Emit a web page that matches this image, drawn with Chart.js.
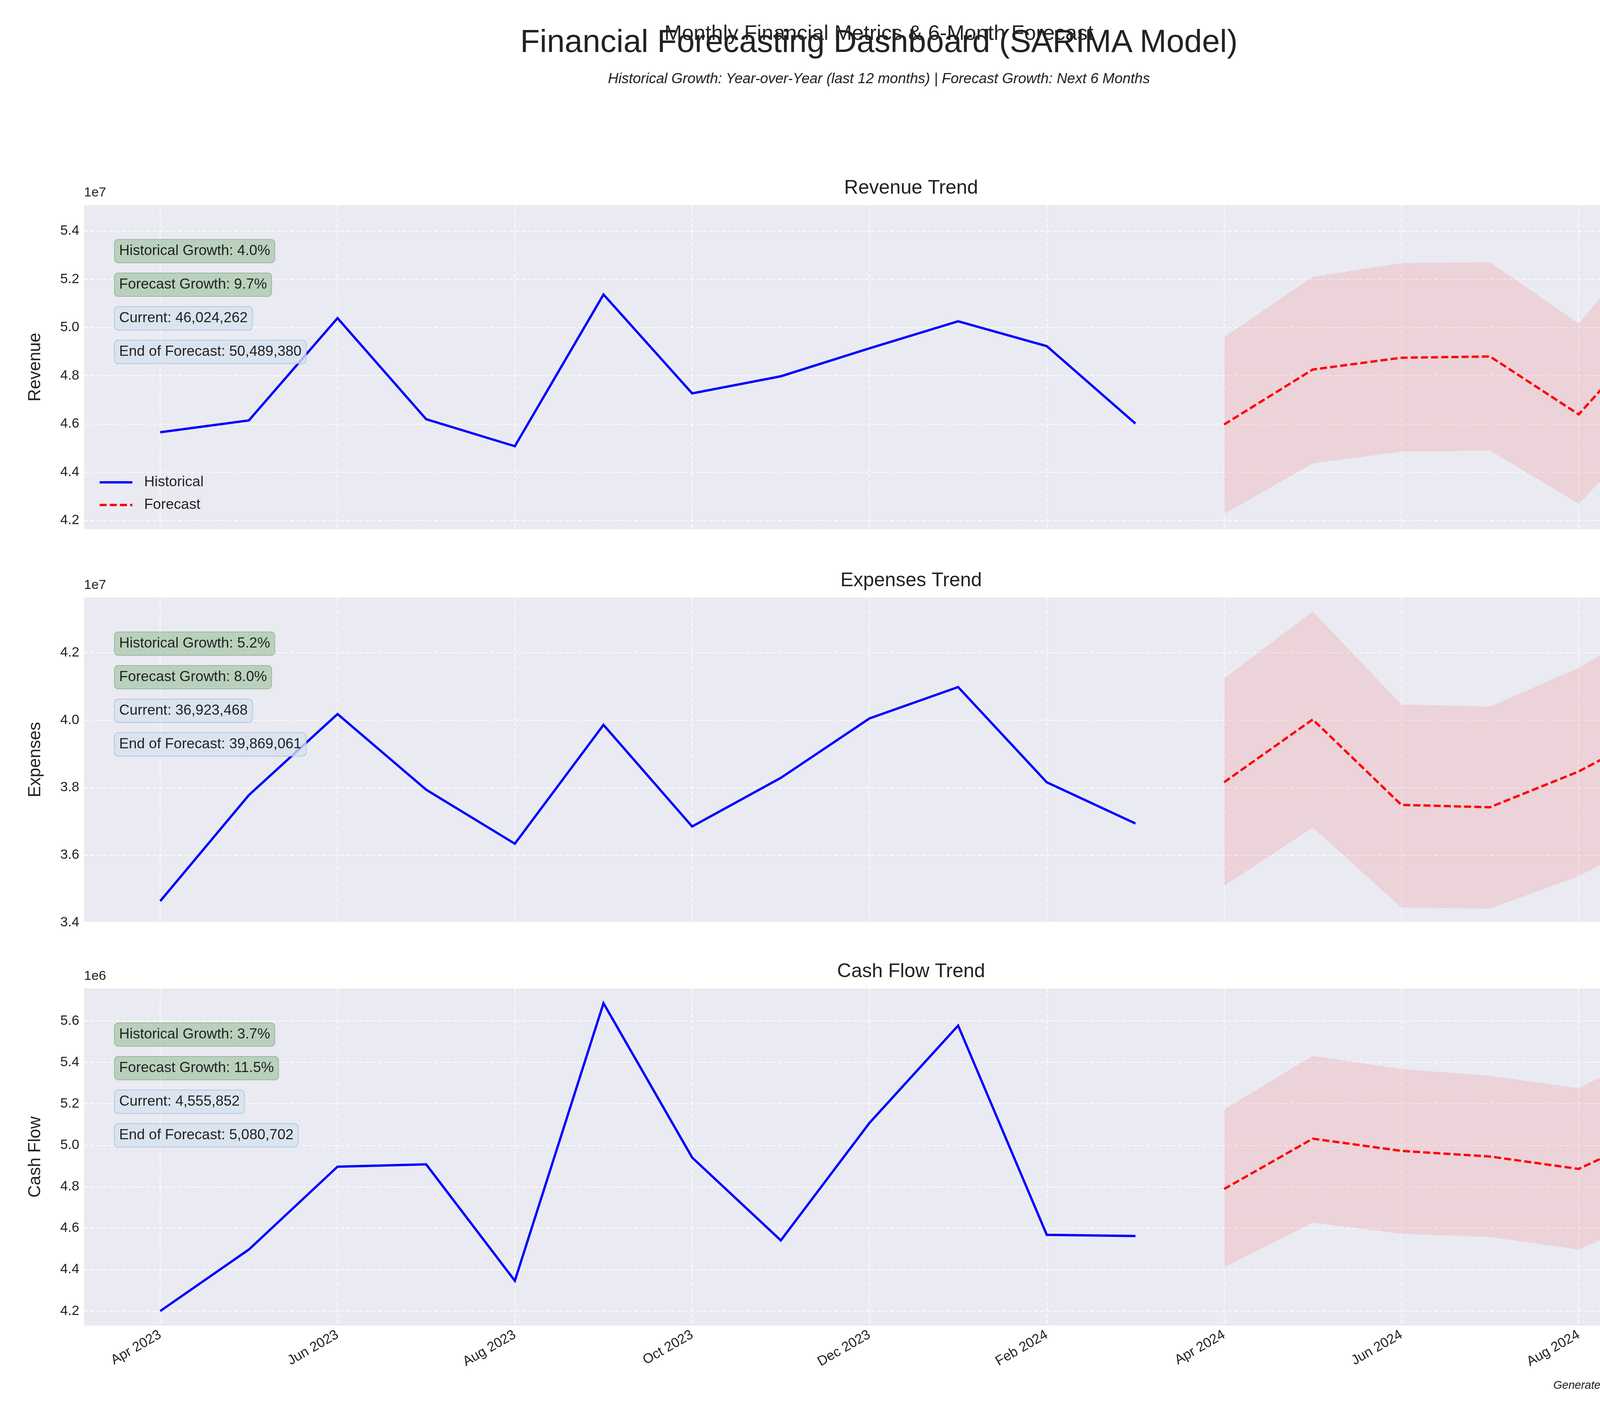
<!DOCTYPE html>
<html>
<head>
<meta charset="utf-8">
<script src="https://cdn.jsdelivr.net/npm/chart.js@4.4.0/dist/chart.umd.min.js"></script>
<style>
  body { margin:0; background:#fff; font-family:"Liberation Sans", Arial, sans-serif; }
  #wrap { position:relative; width:4500px; height:3600px; }
  .t { position:absolute; left:0; width:4500px; text-align:center; color:#222; white-space:nowrap; }
  canvas { position:absolute; left:0; }
</style>
</head>
<body>
<div id="wrap">
  <div class="t" style="top:52px;font-size:54px;">Monthly Financial Metrics &amp; 6-Month Forecast</div>
  <div class="t" style="top:58px;font-size:82px;">Financial Forecasting Dashboard (SARIMA Model)</div>
  <div class="t" style="top:180px;font-size:37px;font-style:italic;">Historical Growth: Year-over-Year (last 12 months) | Forecast Growth: Next 6 Months</div>
  <div style="position:absolute;right:222px;top:3530px;font-size:29px;font-style:italic;color:#222;">Generated: 2025-04-09</div>
  <canvas id="c0"></canvas>
  <canvas id="c1"></canvas>
  <canvas id="c2"></canvas>
</div>
<script>
const months = ['Apr 2023','May 2023','Jun 2023','Jul 2023','Aug 2023','Sep 2023','Oct 2023','Nov 2023','Dec 2023','Jan 2024','Feb 2024','Mar 2024',
                'Apr 2024','May 2024','Jun 2024','Jul 2024','Aug 2024','Sep 2024'];
const tickMonths = [0, 2, 4, 6, 8, 10, 12, 14, 16];

// revenue (x1e7)
const revHist = [4.566, 4.615, 5.039, 4.62, 4.508, 5.137, 4.727, 4.798, 4.914, 5.026, 4.923, 4.602];
const revFc = [4.598, 4.826, 4.875, 4.88, 4.64, 5.049];
const revUp = [4.96, 5.21, 5.267, 5.271, 5.017, 5.45];
const revLo = [4.227, 4.437, 4.486, 4.49, 4.27, 4.646];
const revTicks = [4.2, 4.4, 4.6, 4.8, 5.0, 5.2, 5.4];
// expenses (x1e7)
const expHist = [3.464, 3.778, 4.018, 3.794, 3.634, 3.986, 3.685, 3.829, 4.005, 4.098, 3.816, 3.694];
const expFc = [3.816, 4.002, 3.749, 3.742, 3.848, 3.986];
const expUp = [4.123, 4.322, 4.046, 4.04, 4.155, 4.309];
const expLo = [3.509, 3.682, 3.445, 3.442, 3.538, 3.672];
const expTicks = [3.4, 3.6, 3.8, 4.0, 4.2];
// cash flow (x1e6)
const cfHist = [4.2, 4.497, 4.897, 4.908, 4.346, 5.686, 4.941, 4.541, 5.108, 5.578, 4.568, 4.562];
const cfFc = [4.789, 5.032, 4.973, 4.946, 4.886, 5.086];
const cfUp = [5.173, 5.432, 5.368, 5.335, 5.276, 5.492];
const cfLo = [4.411, 4.627, 4.573, 4.557, 4.497, 4.686];
const cfTicks = [4.2, 4.4, 4.6, 4.8, 5.0, 5.2, 5.4, 5.6];

const panels = [
  { id:'c0', title:'Revenue Trend', ylab:'Revenue', off:'1e7', hist:revHist, fc:revFc, up:revUp, lo:revLo, ticks:revTicks,
    min:4.164, max:5.508, top:525, legend:'left', last:false,
    notes:['Historical Growth: 4.0%','Forecast Growth: 9.7%','Current: 46,024,262','End of Forecast: 50,489,380'] },
  { id:'c1', title:'Expenses Trend', ylab:'Expenses', off:'1e7', hist:expHist, fc:expFc, up:expUp, lo:expLo, ticks:expTicks,
    min:3.403, max:4.363, top:1530, legend:'right', last:false,
    notes:['Historical Growth: 5.2%','Forecast Growth: 8.0%','Current: 36,923,468','End of Forecast: 39,869,061'] },
  { id:'c2', title:'Cash Flow Trend', ylab:'Cash Flow', off:'1e6', hist:cfHist, fc:cfFc, up:cfUp, lo:cfLo, ticks:cfTicks,
    min:4.13, max:5.757, top:2531, legend:'right', last:true,
    notes:['Historical Growth: 3.7%','Forecast Growth: 11.5%','Current: 4,555,852','End of Forecast: 5,080,702'] }
];

const PANEL_H = 863, PAD_TOP = 110, XAX_H = 200;
const FONT = 'Liberation Sans';

function pts(vals, start) { return vals.map((v, i) => ({ x: start + i, y: v })); }

const decor = {
  id: 'decor',
  beforeDraw(chart) {
    const a = chart.chartArea, c = chart.ctx;
    c.save(); c.fillStyle = '#EAEAF2'; c.fillRect(a.left, a.top, a.right - a.left, a.bottom - a.top); c.restore();
  },
  afterDraw(chart) {
    const p = chart.options.plugins.decor.panel, a = chart.chartArea, c = chart.ctx;
    c.save();
    c.fillStyle = '#222'; c.textAlign = 'center'; c.textBaseline = 'bottom';
    c.font = '50px "' + FONT + '"';
    c.fillText(p.title, (a.left + a.right) / 2, a.top - 18);
    c.font = '34px "' + FONT + '"'; c.textAlign = 'left';
    c.fillText(p.off, a.left, a.top - 14);
    // notes
    c.font = '37px "' + FONT + '"'; c.textBaseline = 'middle';
    p.notes.forEach((s, i) => {
      const y = a.top + 118 + i * 86, x = a.left + 90;
      const w = c.measureText(s).width + 24;
      c.fillStyle = i < 2 ? 'rgba(143,188,143,0.55)' : 'rgba(214,226,240,0.8)';
      c.strokeStyle = i < 2 ? 'rgba(120,160,120,0.6)' : 'rgba(170,190,215,0.8)';
      c.lineWidth = 2;
      c.beginPath(); c.roundRect(x - 12, y - 30, w, 60, 10); c.fill(); c.stroke();
      c.fillStyle = '#222'; c.fillText(s, x, y);
    });
    // legend
    const lx = p.legend === 'left' ? a.left + 40 : a.right - 320;
    const ly = a.bottom - 120;
    [['Historical', '#0000ff', []], ['Forecast', '#ff0000', [18, 8]]].forEach((e, i) => {
      const y = ly + i * 58;
      c.strokeStyle = e[1]; c.lineWidth = 6; c.setLineDash(e[2]);
      c.beginPath(); c.moveTo(lx, y); c.lineTo(lx + 84, y); c.stroke();
      c.setLineDash([]); c.fillStyle = '#222'; c.fillText(e[0], lx + 114, y);
    });
    c.restore();
  }
};

panels.forEach(p => {
  const cv = document.getElementById(p.id);
  const h = PAD_TOP + PANEL_H + (p.last ? XAX_H : 0);
  cv.style.top = (p.top - PAD_TOP) + 'px';
  cv.width = 4500; cv.height = h;
  cv.style.width = '4500px'; cv.style.height = h + 'px';
  new Chart(cv, {
    type: 'line',
    data: { datasets: [
      { data: pts(p.up, 12), borderWidth: 0, pointRadius: 0, fill: '+1', backgroundColor: 'rgba(255,0,0,0.1)', tension: 0 },
      { data: pts(p.lo, 12), borderWidth: 0, pointRadius: 0, fill: false, tension: 0 },
      { data: pts(p.hist, 0), borderColor: '#0000ff', borderWidth: 6, pointRadius: 0, fill: false, tension: 0 },
      { data: pts(p.fc, 12), borderColor: '#ff0000', borderWidth: 6, borderDash: [18, 8], pointRadius: 0, fill: false, tension: 0 }
    ] },
    options: {
      responsive: false, animation: false, devicePixelRatio: 1,
      layout: { padding: { left: 60, right: 50, top: PAD_TOP, bottom: 0 } },
      plugins: { legend: { display: false }, tooltip: { enabled: false }, decor: { panel: p } },
      scales: {
        x: {
          type: 'linear', min: -0.86, max: 17.8,
          afterBuildTicks: s => { s.ticks = tickMonths.map(v => ({ value: v })); },
          afterFit: s => { s.height = p.last ? XAX_H : 0; },
          ticks: { display: p.last, autoSkip: false, maxRotation: 30, minRotation: 30,
                   color: '#222', font: { size: 35, family: FONT }, callback: v => months[v] },
          grid: { color: '#ffffff', lineWidth: 2, drawTicks: false },
          border: { display: false, dash: [10, 6] }
        },
        y: {
          min: p.min, max: p.max,
          afterBuildTicks: s => { s.ticks = p.ticks.map(v => ({ value: v })); },
          afterFit: s => { s.width = 155; },
          ticks: { color: '#222', font: { size: 35, family: FONT }, padding: 12, callback: v => v.toFixed(1) },
          title: { display: true, text: p.ylab, color: '#222', font: { size: 44, family: FONT } },
          grid: { color: '#ffffff', lineWidth: 2, drawTicks: false },
          border: { display: false, dash: [10, 6] }
        }
      }
    },
    plugins: [decor]
  });
});
</script>
</body>
</html>
